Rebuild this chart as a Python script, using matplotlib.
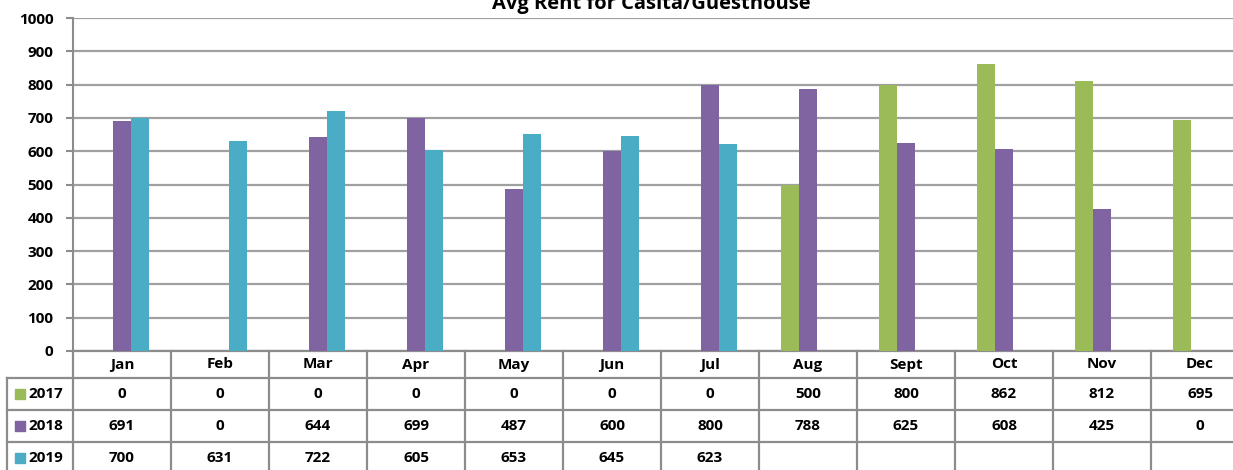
import numpy as np
import matplotlib
matplotlib.use('Agg')
import matplotlib.pyplot as plt
import matplotlib.transforms as mtransforms

months = ['Jan', 'Feb', 'Mar', 'Apr', 'May', 'Jun', 'Jul', 'Aug', 'Sept', 'Oct', 'Nov', 'Dec']
years = ['2017', '2018', '2019']
rent_2017 = [0, 0, 0, 0, 0, 0, 0, 500, 800, 862, 812, 695]
rent_2018 = [691, 0, 644, 699, 487, 600, 800, 788, 625, 608, 425, 0]
rent_2019 = [700, 631, 722, 605, 653, 645, 623, None, None, None, None, None]
colors = ['#9BBB59', '#8064A2', '#4BACC6']

plt.rcParams['font.family'] = ['Open Sans', 'DejaVu Sans']
plt.rcParams['font.weight'] = 'bold'
fs = 11

fig = plt.figure(figsize=(12.33, 4.70), dpi=100)
ax = fig.add_axes([73 / 1233, 119 / 470, 1176 / 1233, 333 / 470])

x = np.arange(len(months))
w = 0.184
series = [rent_2017, rent_2018, rent_2019]
for k, (vals, c) in enumerate(zip(series, colors)):
    v = [0 if a is None else a for a in vals]
    ax.bar(x + (k - 1) * w, v, width=w, color=c, zorder=3)

ax.set_xlim(-0.5, 11.5)
ax.set_ylim(0, 1000)
ax.set_yticks(range(0, 1001, 100))
ax.yaxis.grid(True, color='#A0A0A0', lw=1.6, zorder=0)
ax.set_xticks([])
for s in ['top', 'right', 'bottom']:
    ax.spines[s].set_visible(False)
ax.spines['left'].set_color('#8C8C8C')
ax.spines['left'].set_linewidth(1.5)
ax.tick_params(axis='y', length=5, color='#8C8C8C', width=1.5, labelsize=fs, pad=9)
for lab in ax.get_yticklabels():
    lab.set_fontweight('bold')

# data table under the chart
tr = mtransforms.blended_transform_factory(ax.transData, ax.transAxes)
ph = 333.0
row_tops = [0, -27 / ph, -59 / ph, -91 / ph, -123 / ph]
lc = '#8C8C8C'
left_x = -0.5 - 66 / 98
ax.plot([-0.5, 11.5], [0, 0], transform=tr, color=lc, lw=1.6, clip_on=False)
for yy in row_tops[1:]:
    ax.plot([left_x, 11.5], [yy, yy], transform=tr, color=lc, lw=1.6, clip_on=False)
for i in range(13):
    ax.plot([i - 0.5, i - 0.5], [0, row_tops[-1]], transform=tr, color=lc, lw=1.6, clip_on=False)
ax.plot([left_x, left_x], [row_tops[1], row_tops[-1]], transform=tr, color=lc, lw=1.6, clip_on=False)

for i, m in enumerate(months):
    ax.text(i, (row_tops[0] + row_tops[1]) / 2, m, transform=tr, ha='center', va='center',
            fontsize=fs, fontweight='bold')
for r, (yr, vals, c) in enumerate(zip(years, series, colors)):
    yc = (row_tops[r + 1] + row_tops[r + 2]) / 2
    ax.scatter([left_x + 0.13], [yc], transform=tr, marker='s', s=45, color=c, clip_on=False)
    ax.text(left_x + 0.22, yc, yr, transform=tr, ha='left', va='center', fontsize=fs, fontweight='bold')
    for i, v in enumerate(vals):
        if v is not None:
            ax.text(i, yc, str(v), transform=tr, ha='center', va='center', fontsize=fs, fontweight='bold')

fig.text(651 / 1233, 1 - 9 / 470, 'Avg Rent for Casita/Guesthouse', ha='center', va='baseline',
         fontsize=14.5, fontweight='bold')

fig.savefig('out.png', dpi=100)
